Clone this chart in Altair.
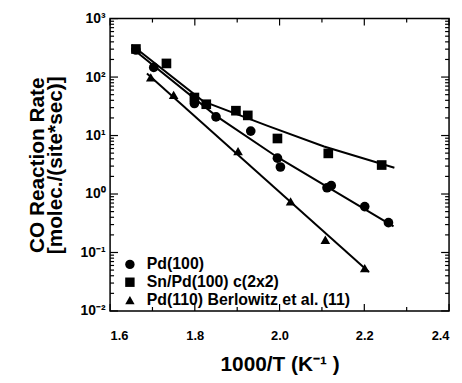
import json
import altair as alt
import pandas as pd

# ---- data ----
series_names = ["Pd(100)", "Sn/Pd(100) c(2x2)", "Pd(110) Berlowitz et al. (11)"]

pd100_x = [1.661, 1.703, 1.799, 1.850, 1.932, 1.995, 2.002, 2.112, 2.122, 2.201, 2.257]
pd100_y = [290, 146, 35.3, 20.8, 11.9, 4.1, 2.9, 1.28, 1.39, 0.61, 0.324]

snpd_x = [1.661, 1.733, 1.799, 1.827, 1.897, 1.925, 1.995, 2.115, 2.241]
snpd_y = [302, 171, 44.7, 34.3, 26.6, 22.1, 8.9, 4.95, 3.13]

pd110_x = [1.696, 1.750, 1.902, 2.026, 2.108, 2.201]
pd110_y = [98.6, 49.6, 5.4, 0.75, 0.165, 0.054]

fit_pd100_x = [1.651, 1.850, 1.995, 2.269]
fit_pd100_y = [314, 21.7, 4.26, 0.279]
fit_snpd_x = [1.651, 1.820, 1.972, 2.105, 2.271]
fit_snpd_y = [353, 38.4, 14.6, 6.5, 2.81]
fit_pd110_x = [1.687, 2.211]
fit_pd110_y = [115, 0.0464]

x_major = [1.6, 1.8, 2.0, 2.2, 2.4]
x_minor = [1.7, 1.9, 2.1, 2.3]
y_major = [0.01, 0.1, 1, 10, 100, 1000]
y_labels = ["10\u207b\u00b2", "10\u207b\u00b9", "10\u2070", "10\u00b9", "10\u00b2", "10\u00b3"]
decades = [0.01, 0.1, 1, 10, 100]
mantissas = [2, 3, 4, 5, 6, 7, 8, 9]
y_minor = [m * d for d in decades for m in mantissas]

x_title = "1000/T  (K\u207b\u00b9 )"
y_title = ["CO Reaction Rate", "[molec./(site*sec)]"]

# ---- tables ----
pts = pd.concat([
    pd.DataFrame({"x": pd100_x, "y": pd100_y, "series": series_names[0]}),
    pd.DataFrame({"x": snpd_x, "y": snpd_y, "series": series_names[1]}),
    pd.DataFrame({"x": pd110_x, "y": pd110_y, "series": series_names[2]}),
])
fits = pd.concat([
    pd.DataFrame({"x": fit_pd100_x, "y": fit_pd100_y, "series": series_names[0]}),
    pd.DataFrame({"x": fit_snpd_x, "y": fit_snpd_y, "series": series_names[1]}),
    pd.DataFrame({"x": fit_pd110_x, "y": fit_pd110_y, "series": series_names[2]}),
])

W, H = 342, 295
FONT = "Liberation Sans"
xscale = alt.Scale(domain=[1.6, 2.4], nice=False, zero=False)
yscale = alt.Scale(type="log", domain=[0.01, 1000], nice=False)

label_expr = json.dumps(y_labels, ensure_ascii=False) + "[round(log(datum.value)/LN10)+2]"

x_axis = alt.Axis(values=x_major, format=".1f", ticks=False, domain=False, grid=False,
                  labelFont=FONT, labelFontSize=13, labelFontWeight="bold", labelColor="black",
                  labelPadding=19, title=x_title, titleFont=FONT, titleFontSize=21,
                  titleFontWeight="bold", titleColor="black", titlePadding=11)
y_axis = alt.Axis(values=y_major, labelExpr=label_expr, ticks=False, domain=False, grid=False,
                  labelFont=FONT, labelFontSize=14, labelFontWeight="bold", labelColor="black",
                  labelPadding=5, title=y_title, titleFont=FONT, titleFontSize=21,
                  titleFontWeight="bold", titleColor="black", titlePadding=15,
                  titleLineHeight=18)

lines = alt.Chart(fits).mark_line(color="black", strokeWidth=2).encode(
    x=alt.X("x:Q", scale=xscale, axis=x_axis),
    y=alt.Y("y:Q", scale=yscale, axis=y_axis),
    detail="series:N",
)

points = alt.Chart(pts).mark_point(filled=True, color="black", opacity=1, size=95).encode(
    x=alt.X("x:Q", scale=xscale, axis=x_axis),
    y=alt.Y("y:Q", scale=yscale, axis=y_axis),
    shape=alt.Shape("series:N",
                    scale=alt.Scale(domain=series_names, range=["circle", "square", "triangle-up"]),
                    legend=alt.Legend(title=None, orient="none", legendX=12, legendY=240,
                                      labelFont=FONT, labelFontSize=16, labelFontWeight="bold",
                                      labelColor="black", symbolSize=90, symbolFillColor="black",
                                      symbolStrokeColor="black", rowPadding=2, labelOffset=9,
                                      padding=0, labelLimit=400)),
)


def yticks(vals, length, left=True):
    x0 = 0 if left else W
    x1 = length if left else W - length
    return alt.Chart(pd.DataFrame({"x": [1.6] * len(vals), "y": vals})).mark_rule(
        color="black", strokeWidth=1.2).encode(
        y=alt.Y("y:Q", scale=yscale, axis=y_axis), x=alt.value(x0), x2=alt.value(x1))


def xticks(vals, length, bottom=True):
    y0 = H if bottom else 0
    y1 = H - length if bottom else length
    return alt.Chart(pd.DataFrame({"x": vals})).mark_rule(color="black", strokeWidth=1.2).encode(
        x=alt.X("x:Q", scale=xscale, axis=x_axis), y=alt.value(y0), y2=alt.value(y1))


chart = alt.layer(
    lines, points,
    yticks(y_major, 8, True), yticks(y_minor, 4, True),
    yticks(y_major, 8, False), yticks(y_minor, 4, False),
    xticks(x_major, 7, True), xticks(x_minor, 4, True),
    xticks(x_major, 7, False), xticks(x_minor, 4, False),
).properties(
    width=W, height=H,
    autosize=alt.AutoSizeParams(type="none"),
    padding={"left": 103, "top": 9, "right": 5, "bottom": 70},
).configure_view(stroke="black", strokeWidth=1.5)

chart.save("out.html", embed_options={"renderer": "svg", "actions": False})
